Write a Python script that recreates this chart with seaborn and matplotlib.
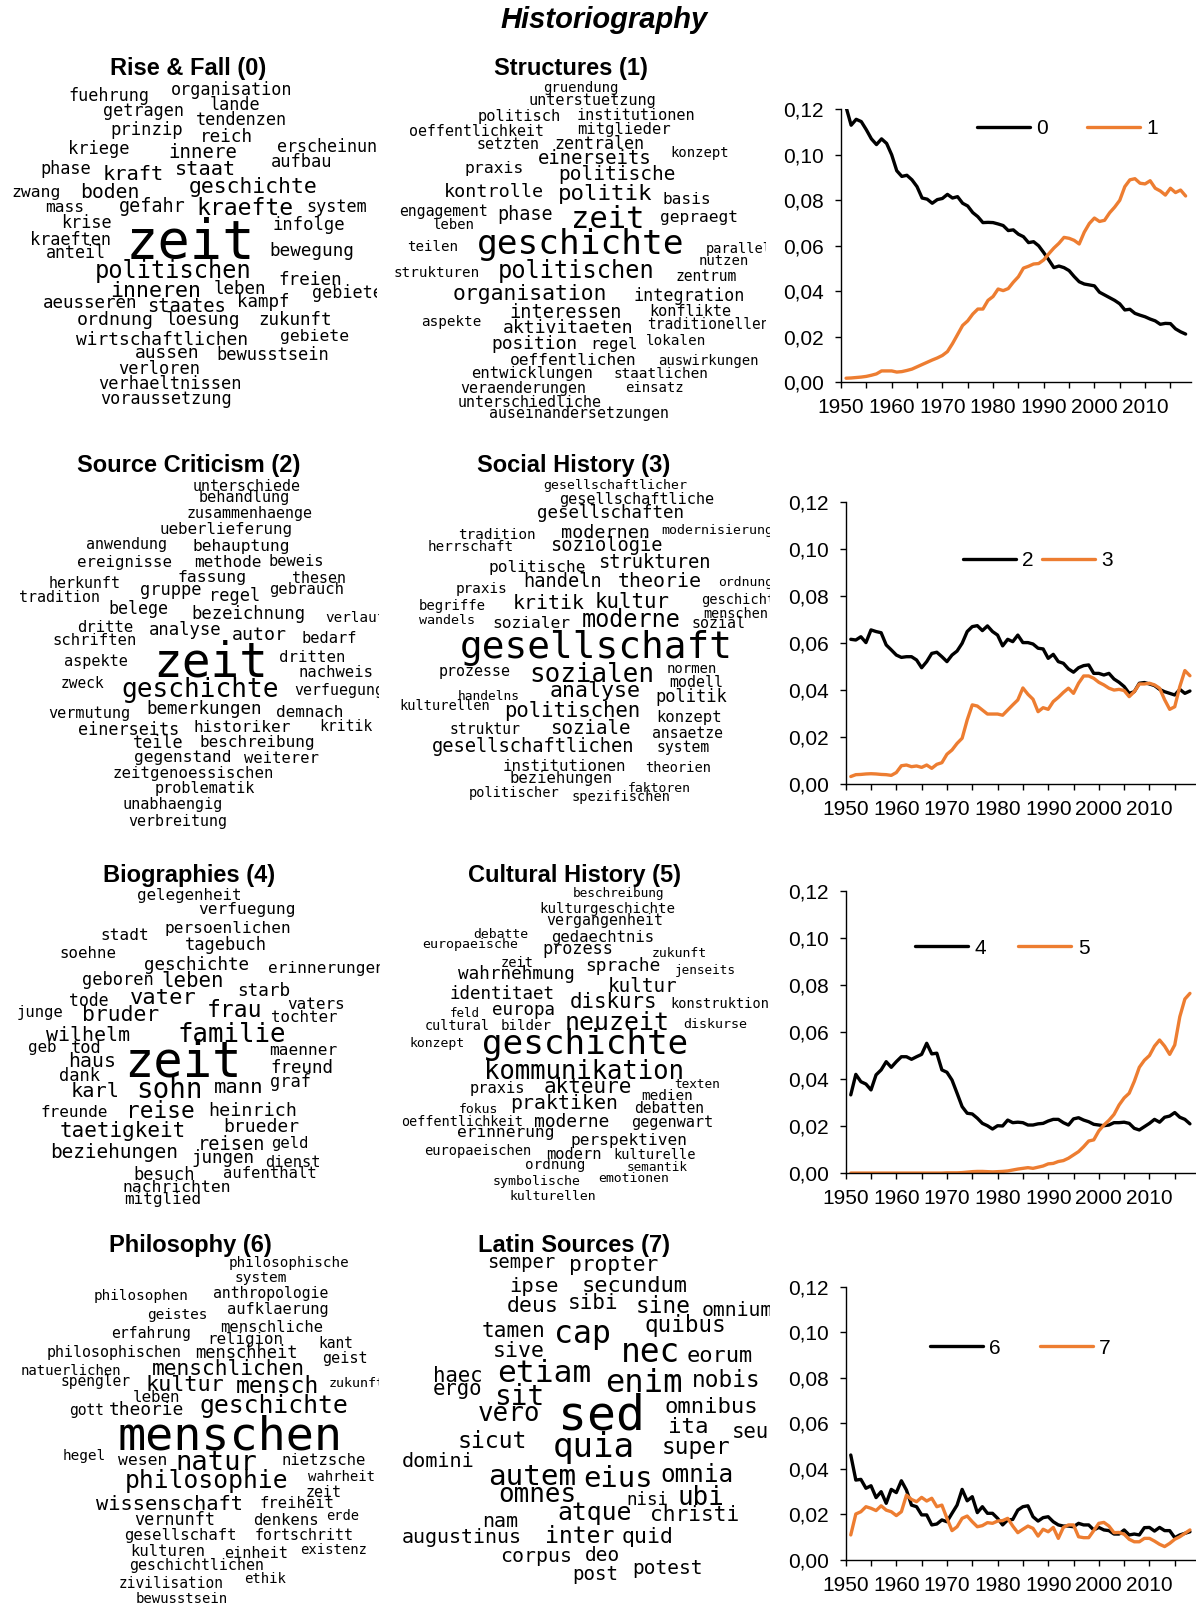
import matplotlib
matplotlib.use("Agg")
import matplotlib.pyplot as plt
import seaborn as sns
import pandas as pd
from matplotlib.ticker import FuncFormatter, MultipleLocator

# ---------------- data ----------------
YEARS = list(range(1951, 2019))

SHARE_0 = [0.121, 0.113, 0.1156, 0.1146, 0.111, 0.107, 0.1045, 0.107, 0.105, 0.100,
           0.093, 0.0905, 0.091, 0.089, 0.086, 0.081, 0.0805, 0.0787, 0.0803, 0.0808,
           0.0826, 0.081, 0.0816, 0.0787, 0.0775, 0.0746, 0.0728, 0.0702, 0.0703, 0.0702,
           0.0696, 0.0689, 0.0667, 0.067, 0.0651, 0.064, 0.0614, 0.0618, 0.060, 0.057,
           0.0538, 0.0504, 0.0511, 0.0504, 0.0491, 0.0465, 0.0442, 0.0432, 0.0428, 0.0424,
           0.0396, 0.0384, 0.0372, 0.036, 0.0345, 0.0318, 0.0321, 0.0303, 0.0295, 0.0288,
           0.0278, 0.027, 0.0255, 0.0259, 0.0258, 0.0235, 0.0222, 0.0212]
SHARE_1 = [0.0018, 0.0019, 0.0021, 0.0023, 0.0026, 0.0031, 0.0037, 0.005, 0.005, 0.005,
           0.0045, 0.0047, 0.0052, 0.0058, 0.0068, 0.0078, 0.0088, 0.0098, 0.0107, 0.0118,
           0.0135, 0.017, 0.021, 0.025, 0.027, 0.030, 0.0322, 0.0322, 0.036, 0.0377,
           0.041, 0.0403, 0.0412, 0.044, 0.0464, 0.0502, 0.051, 0.052, 0.0522, 0.0538,
           0.0565, 0.059, 0.0611, 0.0637, 0.0633, 0.0624, 0.0608, 0.066, 0.0698, 0.0722,
           0.0707, 0.0712, 0.0745, 0.077, 0.080, 0.086, 0.089, 0.0895, 0.0875, 0.0872,
           0.0886, 0.0853, 0.0841, 0.0823, 0.0853, 0.0834, 0.0845, 0.0819]
SHARE_2 = [0.0617, 0.0614, 0.0628, 0.0603, 0.0657, 0.065, 0.0645, 0.0593, 0.0572, 0.055,
           0.054, 0.0543, 0.0543, 0.0529, 0.0496, 0.0522, 0.0557, 0.0562, 0.0543, 0.0522,
           0.055, 0.0567, 0.060, 0.065, 0.0671, 0.0675, 0.0654, 0.0674, 0.065, 0.0635,
           0.0589, 0.0617, 0.0607, 0.0635, 0.0603, 0.0603, 0.0597, 0.0579, 0.0576, 0.0536,
           0.0553, 0.0522, 0.0515, 0.0491, 0.0477, 0.0496, 0.0505, 0.0508, 0.0472, 0.0472,
           0.0465, 0.0472, 0.0448, 0.0434, 0.0416, 0.0387, 0.0394, 0.043, 0.0433, 0.0427,
           0.042, 0.0404, 0.0394, 0.0387, 0.038, 0.0404, 0.0387, 0.0397]
SHARE_3 = [0.0033, 0.0041, 0.0042, 0.0044, 0.0045, 0.0044, 0.0042, 0.0041, 0.0038, 0.005,
           0.0079, 0.0082, 0.0075, 0.0078, 0.0072, 0.0082, 0.0068, 0.0085, 0.0092, 0.0128,
           0.0146, 0.0174, 0.0196, 0.0274, 0.0338, 0.0333, 0.0316, 0.0299, 0.0299, 0.0299,
           0.0294, 0.0316, 0.0338, 0.0359, 0.041, 0.0383, 0.0362, 0.0309, 0.0326, 0.0319,
           0.0352, 0.037, 0.0391, 0.0409, 0.0387, 0.043, 0.0461, 0.0461, 0.0451, 0.0434,
           0.0423, 0.0409, 0.0401, 0.0404, 0.0399, 0.0373, 0.0394, 0.0427, 0.0427, 0.043,
           0.0423, 0.0409, 0.036, 0.0319, 0.033, 0.0416, 0.0484, 0.0462]
SHARE_4 = [0.0333, 0.042, 0.0389, 0.0379, 0.0354, 0.0418, 0.0439, 0.0474, 0.045, 0.0474,
           0.0495, 0.0495, 0.0484, 0.0495, 0.0505, 0.0552, 0.0507, 0.051, 0.0439, 0.0429,
           0.0396, 0.034, 0.0283, 0.0255, 0.0252, 0.0234, 0.0212, 0.0202, 0.0188, 0.0202,
           0.0201, 0.0226, 0.0215, 0.0217, 0.0215, 0.0205, 0.0205, 0.021, 0.0212, 0.0222,
           0.0229, 0.0229, 0.0215, 0.0205, 0.0231, 0.0236, 0.0226, 0.0219, 0.0208, 0.0205,
           0.0202, 0.0205, 0.0215, 0.0215, 0.0217, 0.0212, 0.0191, 0.0184, 0.0198, 0.0212,
           0.0229, 0.0217, 0.0238, 0.0243, 0.0258, 0.0238, 0.0229, 0.021]
SHARE_5 = [0.0001, 0.0001, 0.0001, 0.0001, 0.0001, 0.0001, 0.0001, 0.0001, 0.0001, 0.0001,
           0.0001, 0.0001, 0.0001, 0.0001, 0.0001, 0.0001, 0.0001, 0.0001, 0.0001, 0.0002,
           0.0002, 0.0002, 0.0003, 0.0005, 0.0007, 0.0008, 0.0008, 0.0007, 0.0006, 0.0007,
           0.0008, 0.001, 0.0014, 0.0018, 0.0021, 0.0024, 0.0021, 0.0026, 0.0031, 0.004,
           0.0042, 0.005, 0.0054, 0.0064, 0.0078, 0.0092, 0.0113, 0.0137, 0.0142, 0.018,
           0.0205, 0.0225, 0.025, 0.029, 0.032, 0.034, 0.039, 0.045, 0.048, 0.050,
           0.054, 0.0566, 0.054, 0.0505, 0.0545, 0.0665, 0.074, 0.0764]
SHARE_6 = [0.0461, 0.0351, 0.0354, 0.0315, 0.0326, 0.0274, 0.030, 0.0249, 0.031, 0.0296,
           0.0348, 0.0307, 0.0241, 0.0234, 0.0198, 0.0198, 0.0154, 0.0158, 0.0176, 0.0168,
           0.0205, 0.0241, 0.031, 0.026, 0.0278, 0.0208, 0.0234, 0.0205, 0.0205, 0.0183,
           0.0154, 0.0176, 0.0178, 0.0219, 0.0234, 0.0238, 0.019, 0.0171, 0.0186, 0.019,
           0.0168, 0.0154, 0.0149, 0.0149, 0.0146, 0.0161, 0.0154, 0.0154, 0.0132, 0.0143,
           0.0132, 0.0129, 0.0114, 0.0114, 0.0132, 0.011, 0.0114, 0.011, 0.0142, 0.0143,
           0.0127, 0.0143, 0.0129, 0.0129, 0.0098, 0.011, 0.0117, 0.0124]
SHARE_7 = [0.011, 0.0202, 0.0212, 0.0234, 0.0227, 0.0217, 0.0238, 0.0219, 0.0212, 0.0195,
           0.0212, 0.0285, 0.0266, 0.0256, 0.0275, 0.0259, 0.0271, 0.0234, 0.0241, 0.0183,
           0.0129, 0.0146, 0.0183, 0.0193, 0.0168, 0.0146, 0.0151, 0.0164, 0.0161, 0.0171,
           0.0173, 0.0183, 0.0149, 0.012, 0.0135, 0.0149, 0.0139, 0.0105, 0.0135, 0.0124,
           0.0143, 0.0095, 0.0143, 0.0154, 0.0154, 0.0102, 0.0098, 0.0098, 0.0129, 0.0161,
           0.0165, 0.0149, 0.012, 0.0121, 0.0113, 0.0091, 0.008, 0.008, 0.0095, 0.0095,
           0.0083, 0.0069, 0.0059, 0.0073, 0.0091, 0.0102, 0.0117, 0.0132]

SHARES = [SHARE_0, SHARE_1, SHARE_2, SHARE_3, SHARE_4, SHARE_5, SHARE_6, SHARE_7]
TOPIC_TITLES = ["Rise & Fall (0)", "Structures (1)", "Source Criticism (2)", "Social History (3)",
                "Biographies (4)", "Cultural History (5)", "Philosophy (6)", "Latin Sources (7)"]
Y_TICKS = [0.0, 0.02, 0.04, 0.06, 0.08, 0.10, 0.12]
X_LABEL_YEARS = [1950, 1960, 1970, 1980, 1990, 2000, 2010]
MAIN_TITLE = "Historiography"

# ---------------- word-cloud layouts (word, left px, right px, baseline px) ----------------
CLOUD_0 = [
    ("fuehrung", 65, 153, 100.7), ("organisation", 165.7, 298.3, 95), ("lande", 208, 262, 110),
    ("getragen", 100, 188, 115.7), ("tendenzen", 191.7, 291.7, 125), ("prinzip", 107, 186, 135),
    ("reich", 198, 255, 141.7), ("erscheinungen", 270, 413, 151.7), ("kriege", 65, 131.7, 154),
    ("innere", 165.7, 240, 158.3), ("aufbau", 268, 335, 166.7), ("phase", 38, 92.7, 174.3),
    ("kraft", 100, 165.7, 180), ("staat", 172.7, 238.3, 175), ("zwang", 10, 63, 196.7),
    ("boden", 77.7, 141.7, 198.3), ("geschichte", 182.7, 323.3, 193.3), ("mass", 43.3, 85, 212.3),
    ("gefahr", 116, 188.3, 212.3), ("kraefte", 191.7, 297.7, 215), ("system", 304, 369.3, 212.3),
    ("krise", 59.3, 113.3, 228.3), ("infolge", 269, 347.7, 230), ("kraeften", 26, 114.3, 245),
    ("zeit", 121.7, 260, 258.3), ("anteil", 43.3, 108.3, 258.3), ("bewegung", 265.7, 358.3, 256),
    ("politischen", 87.3, 258.3, 278.3), ("freien", 275.7, 344.3, 285), ("inneren", 106, 205, 296.7),
    ("leben", 211.7, 268.3, 294.3), ("gebieten", 308.3, 396, 298.3), ("aeusseren", 38.3, 141.7, 308.3),
    ("staates", 143.3, 229.3, 311.7), ("kampf", 235, 291.7, 306.7), ("ordnung", 73.3, 156.7, 325),
    ("loesung", 162.3, 243.3, 325), ("zukunft", 255, 335, 325), ("wirtschaftlichen", 67.3, 257.3, 345),
    ("gebiete", 276.7, 351.7, 341), ("aussen", 131.7, 201.7, 358.3), ("bewusstsein", 210.7, 335, 360),
    ("verloren", 115, 204, 374.3), ("verhaeltnissen", 90.7, 248.3, 389.3), ("voraussetzung", 93.3, 237.7, 404.3),
]
CLOUD_1 = [
    ("gruendung", 539.3, 621.7, 91.7), ("unterstuetzung", 521.7, 663.3, 105), ("politisch", 474.3, 565, 120.7),
    ("institutionen", 570.7, 701.7, 120), ("oeffentlichkeit", 402.7, 550.7, 136), ("mitglieder", 572.7, 675, 134),
    ("setzten", 474.3, 542.7, 149.3), ("zentralen", 550, 648.3, 149.3), ("konzept", 668.3, 731.7, 157.3),
    ("einerseits", 532.7, 656.7, 164.3), ("praxis", 461.7, 526, 172.7), ("politische", 553.3, 681.7, 180),
    ("kontrolle", 439.3, 547.7, 196.7), ("politik", 554.3, 656.7, 200), ("basis", 660.7, 712.7, 204.3),
    ("engagement", 395, 491.7, 216), ("phase", 495, 555, 220), ("zeit", 568.3, 646.7, 228.3),
    ("gepraegt", 656.7, 741.7, 221.7), ("leben", 430.7, 476, 229.3), ("teilen", 405, 460, 251),
    ("geschichte", 467.3, 693.3, 254), ("parallelen", 701.7, 791.7, 253.3), ("nutzen", 696.7, 750.7, 265),
    ("strukturen", 389.3, 483.3, 276.7), ("politischen", 490, 661.7, 278.3), ("zentrum", 672.7, 739.3, 280.7),
    ("organisation", 445, 614.3, 300), ("integration", 628.3, 749.3, 300.7), ("interessen", 504, 626.7, 318.3),
    ("konflikte", 645, 735, 315.7), ("aspekte", 419.3, 484.3, 326), ("aktivitaeten", 496.7, 640, 332.7),
    ("traditionellen", 641.7, 776, 329.3), ("position", 487.3, 580.7, 349.3), ("regel", 588.3, 639.3, 349.3),
    ("lokalen", 643.3, 708.3, 345), ("oeffentlichen", 504, 643.3, 365), ("auswirkungen", 653.3, 763.3, 365),
    ("entwicklungen", 465, 598.3, 377.7), ("staatlichen", 608.3, 712.7, 378.3), ("veraenderungen", 453.3, 592.7, 392.7),
    ("einsatz", 622.7, 686.7, 391.7), ("unterschiedliche", 450.7, 609.3, 407.3),
    ("auseinandersetzungen", 480, 677.3, 418.3),
]
CLOUD_2 = [
    ("unterschiede", 187.5, 306, 490.7), ("behandlung", 194, 294, 501.7), ("zusammenhaenge", 180, 319, 517.7),
    ("ueberlieferung", 152.5, 299, 534.3), ("anwendung", 82.5, 171, 549), ("behauptung", 187.5, 294, 551),
    ("ereignisse", 72.5, 176, 566.7), ("methode", 191, 264, 566.7), ("beweis", 266, 326, 565.7),
    ("fassung", 175, 250, 581.7), ("thesen", 290, 348.5, 583.3), ("herkunft", 45, 124, 587.7),
    ("tradition", 15, 104, 601.7), ("gruppe", 137.5, 204, 595), ("regel", 207.5, 262.5, 601),
    ("gebrauch", 266, 347.5, 594.3), ("belege", 106, 171, 614.3), ("bezeichnung", 186, 311, 619),
    ("verlauf", 322.5, 387.8, 621.7), ("dritte", 75, 136, 632.3), ("analyse", 146, 225, 635),
    ("autor", 230, 289, 640), ("bedarf", 299, 359, 643.3), ("schriften", 49, 141, 645),
    ("aspekte", 61, 131, 666), ("zeit", 149, 271.5, 676.7), ("dritten", 276.5, 348.5, 662.3),
    ("nachweis", 295, 376, 676.7), ("zweck", 59, 106, 687.7), ("geschichte", 114, 286, 696.7),
    ("verfuegung", 290, 388, 695), ("vermutung", 44, 134, 717.7), ("bemerkungen", 141, 267.5, 714.3),
    ("demnach", 272.5, 346, 716.7), ("einerseits", 74, 184, 735), ("historiker", 189, 295, 731.7),
    ("kritik", 317.5, 375, 731), ("teile", 131, 185, 748.3), ("beschreibung", 194, 321, 746.7),
    ("gegenstand", 129, 236, 761.7), ("weiterer", 241, 322.5, 763.3), ("zeitgenoessischen", 105, 282.5, 778.3),
    ("problematik", 149, 260, 792.7), ("unabhaengig", 117.5, 227.5, 809.3), ("verbreitung", 124, 232.5, 826),
]
CLOUD_3 = [
    ("gesellschaftlicher", 536, 694, 489), ("gesellschaftliche", 550, 722.5, 504), ("gesellschaften", 530, 691.5, 518.3),
    ("tradition", 454, 539, 539), ("modernen", 557.5, 654, 537.7), ("modernisierung", 656, 778.8, 534.3),
    ("herrschaft", 424, 517.5, 551), ("soziologie", 545, 667.5, 551), ("politische", 484, 590, 571.7),
    ("strukturen", 592.5, 716, 568.3), ("praxis", 454, 510, 593.3), ("handeln", 520, 605, 586.7),
    ("theorie", 614, 705, 586.7), ("ordnung", 716, 775.5, 585.7), ("begriffe", 416, 489, 610),
    ("kritik", 510, 587.5, 609.3), ("kultur", 591.5, 672.5, 607.7), ("geschichte", 697.5, 787.5, 604.3),
    ("wandels", 416, 477.5, 624.3), ("sozialer", 489, 574, 628.3), ("moderne", 577.5, 685, 626.7),
    ("menschen", 700, 771, 617.7), ("sozial", 689, 747.5, 628.3), ("gesellschaft", 446.5, 745, 657.7),
    ("prozesse", 435, 514, 675.7), ("sozialen", 524, 660, 682.3), ("normen", 664, 718.5, 673.3),
    ("modell", 667.5, 726, 686.7), ("handelns", 455, 522.5, 700), ("analyse", 546, 645, 696.7),
    ("politik", 652.5, 730, 701.7), ("kulturellen", 395, 495, 710), ("politischen", 497.5, 647.5, 716.7),
    ("konzept", 654, 725, 721.7), ("struktur", 446.5, 524, 734.3), ("soziale", 546.5, 634, 734.3),
    ("ansaetze", 649, 726, 737.7), ("gesellschaftlichen", 421, 645, 752.3), ("system", 654, 711.5, 752.3),
    ("institutionen", 496, 632.5, 771), ("theorien", 642.5, 714, 771.7), ("beziehungen", 504, 617.5, 783.3),
    ("faktoren", 625, 694, 791.7), ("politischer", 465, 564, 796.7), ("spezifischen", 567.5, 675, 801),
]
CLOUD_4 = [
    ("gelegenheit", 131, 246.5, 900), ("verfuegung", 194, 300, 914), ("stadt", 99, 151, 940),
    ("persoenlichen", 159, 297.5, 933.3), ("tagebuch", 181, 270, 950), ("soehne", 57.5, 119, 958.3),
    ("geschichte", 139, 254, 970), ("erinnerungen", 262.5, 390.5, 972.7), ("geboren", 79, 157.5, 985),
    ("leben", 159, 226, 986.7), ("starb", 235, 292.5, 995.7), ("tode", 67.5, 110, 1006),
    ("vater", 127.5, 199, 1004), ("frau", 205, 264, 1016.7), ("vaters", 285, 347.5, 1009.3),
    ("junge", 15, 65, 1017.3), ("bruder", 79, 162.5, 1020.7), ("tochter", 267.5, 340, 1021.7),
    ("wilhelm", 42.5, 134, 1040.7), ("familie", 172.5, 290, 1041.7), ("geb", 27.5, 57.5, 1051.7),
    ("tod", 70, 102.5, 1053.3), ("maenner", 266, 340, 1055), ("haus", 66.5, 117.5, 1067.3),
    ("zeit", 120, 245, 1076.7), ("freund", 267.5, 336, 1073.3), ("dank", 57.5, 101.5, 1080.7),
    ("karl", 69, 121, 1096.7), ("sohn", 134, 205, 1098.3), ("mann", 212.5, 265, 1093.3),
    ("graf", 269, 312.5, 1087.3), ("freunde", 37.5, 111, 1116.7), ("reise", 124, 197.5, 1118.3),
    ("heinrich", 205, 301, 1115.7), ("taetigkeit", 54, 191, 1136.7), ("brueder", 220, 302.5, 1131.7),
    ("reisen", 195, 267.5, 1150), ("geld", 270, 310, 1148.3), ("beziehungen", 44, 184, 1158.3),
    ("jungen", 189, 257.5, 1163.3), ("dienst", 262.5, 322.5, 1166.7), ("besuch", 131, 197.5, 1180),
    ("aufenthalt", 219, 321, 1178.3), ("nachrichten", 117.5, 236.5, 1191.7), ("mitglied", 121, 205, 1204),
]
CLOUD_5 = [
    ("beschreibung", 567.5, 669, 896.7), ("kulturgeschichte", 532.5, 682.5, 913.3), ("vergangenheit", 541, 669, 925),
    ("debatte", 471, 531, 938.3), ("europaeische", 417.5, 522.5, 948.3), ("gedaechtnis", 546, 659, 941.7),
    ("prozess", 539, 616, 954), ("zukunft", 649, 709, 957.3), ("zeit", 500, 535, 967.3),
    ("sprache", 582.5, 664, 970.7), ("jenseits", 672.5, 739, 974.3), ("wahrnehmung", 452.5, 580, 979.3),
    ("kultur", 605, 680, 991.7), ("identitaet", 445, 560, 999.3), ("diskurs", 566, 661, 1008.3),
    ("konstruktion", 666, 774, 1008.3), ("feld", 449, 481, 1017.3), ("europa", 489, 557.5, 1015),
    ("cultural", 421.5, 492.5, 1030), ("bilder", 499, 554, 1030), ("neuzeit", 560, 674, 1030),
    ("diskurse", 680, 750, 1028.3), ("konzept", 407.5, 467.5, 1046.7), ("geschichte", 472.5, 697.5, 1054),
    ("kommunikation", 474, 694, 1079.3), ("praxis", 467.5, 527.5, 1093.3), ("akteure", 540, 636, 1093.3),
    ("texten", 672.5, 722.5, 1088.3), ("medien", 639, 695, 1100), ("fokus", 457.5, 500, 1113.3),
    ("praktiken", 505, 622.5, 1109.3), ("debatten", 631, 707.5, 1113.3), ("oeffentlichkeit", 395, 529, 1126),
    ("moderne", 531, 612.5, 1127.3), ("gegenwart", 627.5, 717.5, 1126.7), ("erinnerung", 452.5, 559, 1137.3),
    ("perspektiven", 565, 692.5, 1145), ("europaeischen", 419, 537.5, 1155), ("modern", 544, 604, 1159.3),
    ("kulturelle", 610, 700, 1159.3), ("ordnung", 522.5, 587.5, 1169.3), ("semantik", 624, 690, 1170.7),
    ("symbolische", 489, 585, 1185), ("emotionen", 595, 672.5, 1181.7), ("kulturellen", 505, 600, 1200),
]
CLOUD_6 = [
    ("philosophische", 222.5, 355, 1266.7), ("system", 232.5, 289, 1281.7), ("philosophen", 89, 192.5, 1300),
    ("anthropologie", 207.5, 334, 1297.7), ("geistes", 144, 210, 1319), ("aufklaerung", 222.5, 334, 1314.3),
    ("erfahrung", 107.5, 195, 1338.3), ("menschliche", 215, 327.5, 1332.3), ("religion", 204, 287.5, 1344.3),
    ("kant", 317.5, 355, 1348.3), ("philosophischen", 40, 189, 1356.7), ("menschheit", 190, 302.5, 1358.3),
    ("geist", 320, 369, 1363.3), ("natuerlichen", 15, 126, 1375), ("menschlichen", 144, 312.5, 1375),
    ("spengler", 57.5, 134, 1385.7), ("kultur", 142.5, 227.5, 1391), ("mensch", 232.5, 322.5, 1393.3),
    ("zukunft", 326, 387, 1386.7), ("leben", 131, 182.5, 1401.7), ("gott", 67.5, 105, 1415),
    ("theorie", 106, 187.5, 1415), ("geschichte", 192.5, 355, 1413.3), ("menschen", 107.5, 352.5, 1449),
    ("hegel", 61, 107.5, 1460), ("wesen", 116, 169, 1465), ("natur", 172.5, 260, 1470),
    ("nietzsche", 277.5, 370, 1465), ("philosophie", 117.5, 296, 1488.3), ("wahrheit", 305, 378.5, 1481),
    ("zeit", 304, 342.5, 1496.7), ("wissenschaft", 89, 250, 1510), ("freiheit", 256, 337.5, 1508.3),
    ("erde", 325, 360, 1520), ("vernunft", 131, 219, 1525), ("denkens", 250, 321, 1525),
    ("gesellschaft", 119, 242.5, 1540), ("fortschritt", 250, 359, 1540), ("kulturen", 127.5, 209, 1556),
    ("einheit", 221, 291, 1558.3), ("existenz", 297.5, 370, 1554.3), ("geschichtlichen", 122.5, 270, 1570),
    ("zivilisation", 114, 229, 1588.3), ("ethik", 242.5, 287.5, 1583.3), ("bewusstsein", 131, 232.5, 1602.7),
]
CLOUD_7 = [
    ("semper", 484, 557.5, 1268.3), ("propter", 565, 662.5, 1270.7), ("ipse", 507.5, 560, 1291.7),
    ("secundum", 577.5, 692.5, 1291.7), ("deus", 505, 560, 1312.3), ("sibi", 566, 620, 1309),
    ("sine", 634, 692.5, 1313.3), ("omnium", 699, 776, 1315.7), ("tamen", 479, 547.5, 1336.7),
    ("cap", 552.5, 612.5, 1343.3), ("quibus", 641.5, 730, 1332.3), ("sive", 491, 546, 1356.7),
    ("nec", 619, 681, 1362.3), ("eorum", 684, 755, 1362.3), ("haec", 431, 484, 1381.7),
    ("etiam", 494, 595, 1381.7), ("enim", 602.5, 685, 1391.7), ("nobis", 689, 762.5, 1386.7),
    ("ergo", 431, 484, 1395), ("sit", 492.5, 545, 1405), ("vero", 476, 542.5, 1421),
    ("sed", 556, 647.5, 1430), ("omnibus", 661, 762.5, 1413.3), ("ita", 667.5, 710, 1433.3),
    ("seu", 731, 770, 1437.7), ("sicut", 455, 530, 1448.3), ("quia", 550, 637.5, 1456.7),
    ("super", 659, 732.5, 1454.3), ("domini", 399, 477.5, 1466.7), ("autem", 485, 580, 1485),
    ("eius", 581, 655, 1486.7), ("omnia", 657.5, 736, 1481.7), ("omnes", 495, 579, 1502.3),
    ("nisi", 625, 670, 1505), ("ubi", 676, 725, 1505), ("nam", 481, 519, 1526.7),
    ("atque", 555, 635, 1520), ("christi", 646, 742.5, 1521), ("augustinus", 396, 527.5, 1543.3),
    ("inter", 542.5, 617.5, 1543.3), ("quid", 620, 675, 1543.3), ("corpus", 497.5, 575, 1562.3),
    ("deo", 584, 621, 1561), ("post", 571, 620, 1580), ("potest", 629, 705, 1574.3),
]
CLOUDS = [CLOUD_0, CLOUD_1, CLOUD_2, CLOUD_3, CLOUD_4, CLOUD_5, CLOUD_6, CLOUD_7]

# ---------------- layout (pixels) ----------------
W, H = 1196, 1605
CLOUD_BOXES = [(0, 40, 377, 425), (385, 40, 766, 430),
               (0, 440, 378.5, 840), (390, 440, 770, 840),
               (0, 850, 380, 1220), (390, 850, 770, 1220),
               (0, 1225, 378.5, 1605), (390, 1225, 770, 1605)]
TITLE_POS = [(188, 75), (570.7, 75), (188.75, 471.7), (573.75, 471.7),
             (189.3, 881.7), (574.3, 881.7), (190, 1251.7), (573.75, 1251.7)]
CHART_BOXES = [(841, 109.3, 1190.7, 382.3), (845.7, 502.3, 1195, 784.3),
               (845.7, 890.7, 1195, 1173.3), (845.7, 1286.7, 1195, 1560)]
LEGEND_POS = [(977, 129, 1.85), (962.7, 561, 0.40), (915, 948, 1.55), (930, 1348, 1.85)]
WORD_SCALE = 0.9   # glyphs in the reference are wider than tall; shrink a little to keep rows apart

ORANGE = "#ED7D31"
SANS = ["Liberation Sans", "DejaVu Sans"]
MONO = ["DejaVu Sans Mono"]

sns.set_style("ticks")
plt.rcParams["font.family"] = SANS
plt.rcParams["text.color"] = "black"
plt.rcParams["axes.labelcolor"] = "black"

fig = plt.figure(figsize=(W / 100, H / 100), dpi=100)
fig.patch.set_facecolor("white")


def px_axes(x0, y0, x1, y1):
    return fig.add_axes([x0 / W, 1 - y1 / H, (x1 - x0) / W, (y1 - y0) / H])


fig.text(604 / W, 1 - 28 / H, MAIN_TITLE, ha="center", va="baseline", color="black",
         fontsize=21, fontweight="bold", fontstyle="italic", family=SANS)

# ---- word clouds ----
for k, (box, layout) in enumerate(zip(CLOUD_BOXES, CLOUDS)):
    x0, y0, x1, y1 = box
    ax = px_axes(x0, y0, x1, y1)
    ax.set_xlim(x0, x1)
    ax.set_ylim(y1, y0)
    ax.axis("off")
    tx, ty = TITLE_POS[k]
    ax.text(tx, ty, TOPIC_TITLES[k], ha="center", va="baseline", fontsize=17, color="black",
            fontweight="bold", family=SANS, clip_on=False)
    for word, a, b, base in layout:
        em_px = (b - a) / (0.602 * len(word) - 0.1) * WORD_SCALE
        ax.text((a + b) / 2, base, word, ha="center", va="baseline",
                fontsize=em_px * 0.72, family=MONO, color="black", clip_on=True)

# ---- line charts ----
fmt = FuncFormatter(lambda v, p: f"{v:.2f}".replace(".", ","))
for c in range(4):
    L, T, R, B = CHART_BOXES[c]
    ax = px_axes(L, T, R, B)
    a, b = 2 * c, 2 * c + 1
    df = pd.DataFrame({"year": YEARS, "a": SHARES[a], "b": SHARES[b]})
    sns.lineplot(data=df, x="year", y="a", ax=ax, color="black", lw=2.4, label=str(a))
    sns.lineplot(data=df, x="year", y="b", ax=ax, color=ORANGE, lw=2.4, label=str(b))
    ax.set_xlim(1950, 2019)
    ax.set_ylim(0, 0.12)
    ax.set_yticks(Y_TICKS)
    ax.yaxis.set_major_formatter(fmt)
    ax.set_xticks(X_LABEL_YEARS)
    ax.set_xticklabels([str(y) for y in X_LABEL_YEARS])
    ax.xaxis.set_minor_locator(MultipleLocator(10, offset=5))
    ax.set_xlabel("")
    ax.set_ylabel("")
    sns.despine(ax=ax)
    for sp in ("left", "bottom"):
        ax.spines[sp].set_color("black")
        ax.spines[sp].set_linewidth(1.0)
    ax.tick_params(axis="both", which="both", direction="out", length=4.3, width=1.0,
                   color="black", labelsize=15, labelcolor="black")
    ax.tick_params(axis="y", pad=8)
    ax.tick_params(axis="x", pad=7)
    for lab in ax.get_xticklabels() + ax.get_yticklabels():
        lab.set_family(SANS)
    lx, ly, cs = LEGEND_POS[c]
    fx = (lx - L) / (R - L)
    fy = (B - ly) / (B - T)
    ax.legend(loc="center left", bbox_to_anchor=(fx, fy), ncol=2, frameon=False,
              handlelength=2.55, handletextpad=0.3, columnspacing=cs, borderpad=0,
              borderaxespad=0, prop={"family": SANS, "size": 15})

fig.savefig("out.png", dpi=100, facecolor="white")
